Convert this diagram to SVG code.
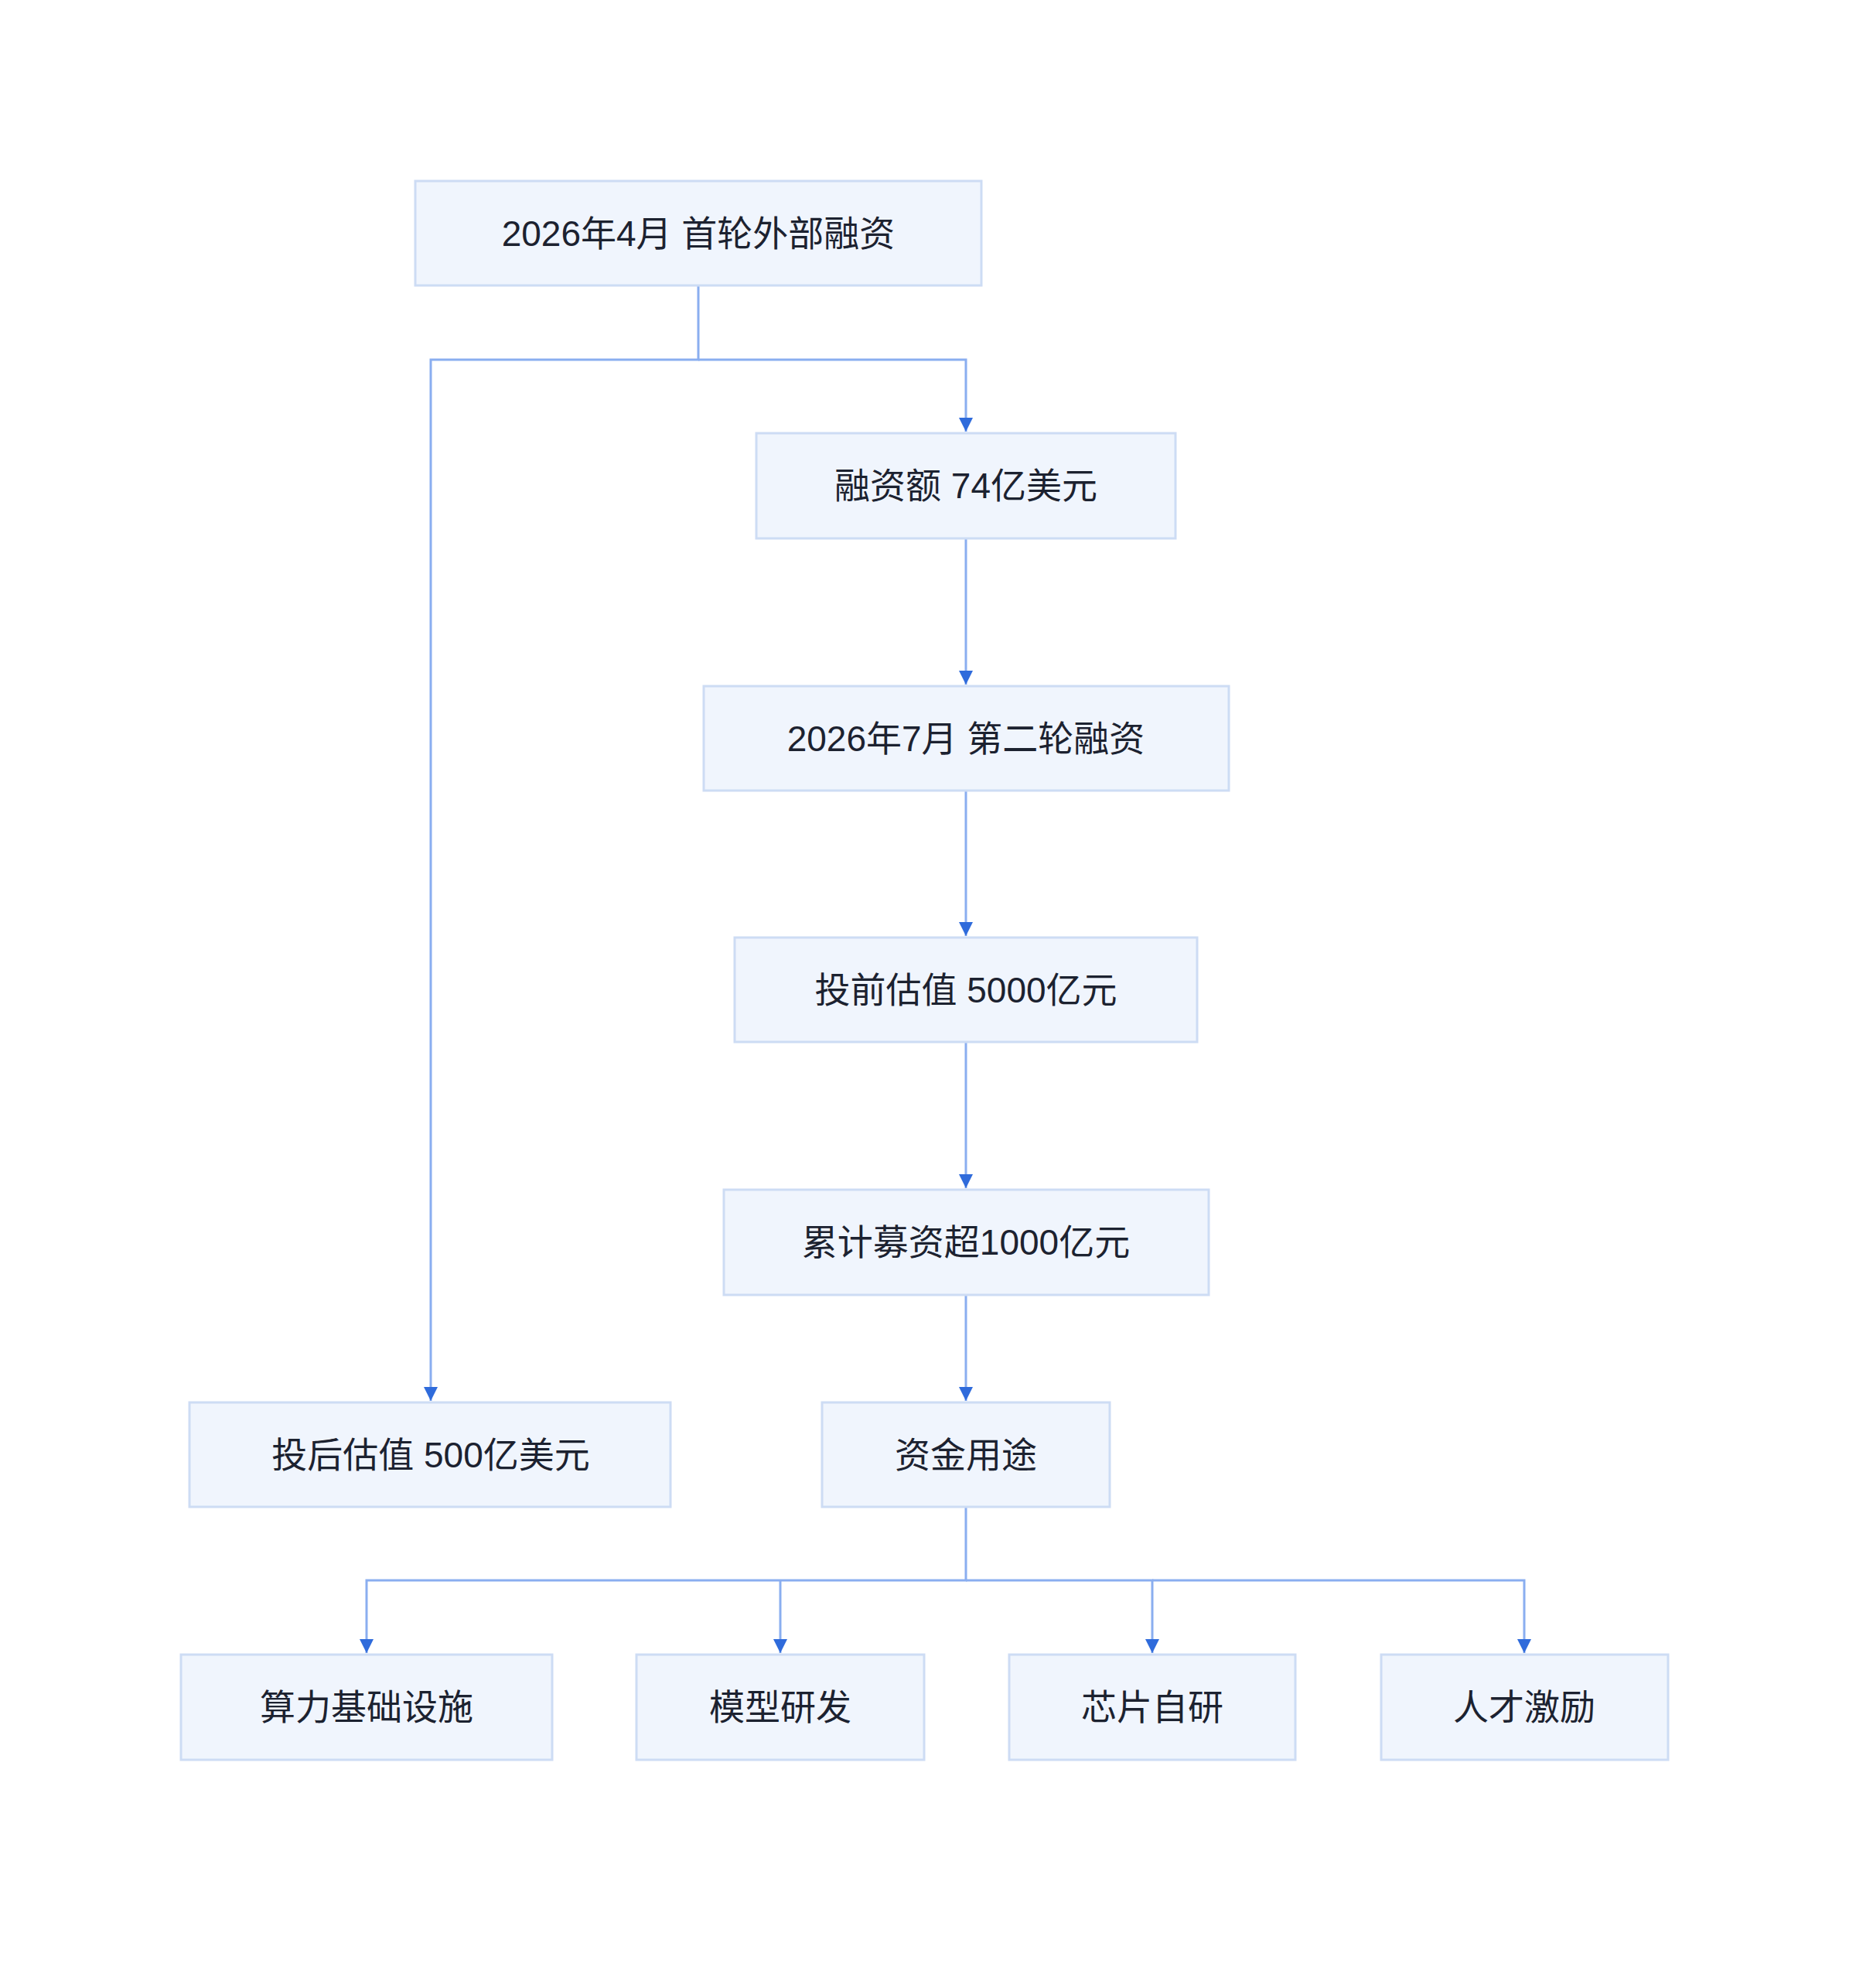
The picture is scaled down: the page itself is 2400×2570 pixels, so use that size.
<svg xmlns="http://www.w3.org/2000/svg" width="2400" height="2570" viewBox="0 0 2400 2570">
<style>
.n rect{fill:#f0f5fd;stroke:#cddcf4;stroke-width:3}
.n text{font-family:"Liberation Sans","Noto Sans CJK SC",sans-serif;font-size:46px;fill:#1c2230;text-anchor:middle;dominant-baseline:central}
.e path{fill:none;stroke:#8aaef0;stroke-width:3}
</style>
<defs><marker id="a" viewBox="0 0 10 10" refX="10" refY="5" markerWidth="6" markerHeight="9" markerUnits="userSpaceOnUse" orient="auto" preserveAspectRatio="none"><path d="M0,0L10,5L0,10z" fill="#2f6bdb"/></marker>
<marker id="b" viewBox="0 0 10 10" refX="10" refY="5" markerWidth="28" markerHeight="18" markerUnits="userSpaceOnUse" orient="auto"><path d="M0,0L10,5L0,10z" fill="#2f6bdb"/></marker></defs>
<rect width="2400" height="2570" fill="#fff"/>
<g class="e">
<path d="M903,369V465H557V1811" marker-end="url(#b)"/>
<path d="M903,465H1249V558" marker-end="url(#b)"/>
<path d="M1249,696V885" marker-end="url(#b)"/>
<path d="M1249,1022V1210" marker-end="url(#b)"/>
<path d="M1249,1347V1536" marker-end="url(#b)"/>
<path d="M1249,1674V1811" marker-end="url(#b)"/>
<path d="M1249,1948V2043H474V2137" marker-end="url(#b)"/>
<path d="M1009,2043V2137" marker-end="url(#b)"/>
<path d="M1249,2043H1490V2137" marker-end="url(#b)"/>
<path d="M1490,2043H1971V2137" marker-end="url(#b)"/>
</g>
<g id="n1" class="n"><rect x="537" y="234" width="732" height="135"/><text x="903" y="302">2026年4月 首轮外部融资</text></g>
<g id="n2" class="n"><rect x="978" y="560" width="542" height="136"/><text x="1249" y="628">融资额 74亿美元</text></g>
<g id="n3" class="n"><rect x="910" y="887" width="679" height="135"/><text x="1249" y="955">2026年7月 第二轮融资</text></g>
<g id="n4" class="n"><rect x="950" y="1212" width="598" height="135"/><text x="1249" y="1280">投前估值 5000亿元</text></g>
<g id="n5" class="n"><rect x="936" y="1538" width="627" height="136"/><text x="1249" y="1606">累计募资超1000亿元</text></g>
<g id="n6" class="n"><rect x="245" y="1813" width="622" height="135"/><text x="557" y="1881">投后估值 500亿美元</text></g>
<g id="n7" class="n"><rect x="1063" y="1813" width="372" height="135"/><text x="1249" y="1881">资金用途</text></g>
<g id="n8" class="n"><rect x="234" y="2139" width="480" height="136"/><text x="474" y="2207">算力基础设施</text></g>
<g id="n9" class="n"><rect x="823" y="2139" width="372" height="136"/><text x="1009" y="2207">模型研发</text></g>
<g id="n10" class="n"><rect x="1305" y="2139" width="370" height="136"/><text x="1490" y="2207">芯片自研</text></g>
<g id="n11" class="n"><rect x="1786" y="2139" width="371" height="136"/><text x="1971" y="2207">人才激励</text></g>
</svg>
